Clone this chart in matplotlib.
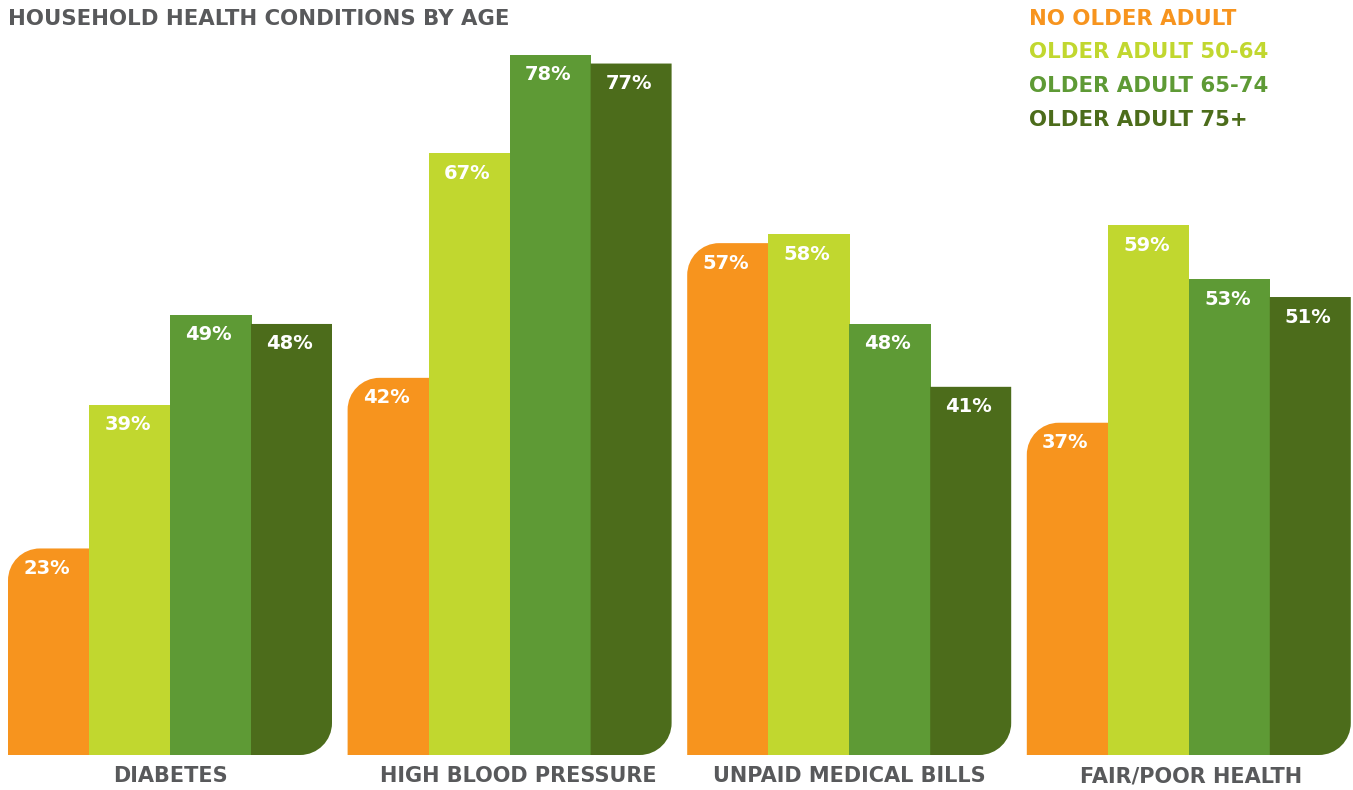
import matplotlib
matplotlib.use("Agg")
import matplotlib.pyplot as plt
from matplotlib.path import Path
from matplotlib.patches import PathPatch

categories = ["DIABETES", "HIGH BLOOD PRESSURE", "UNPAID MEDICAL BILLS", "FAIR/POOR HEALTH"]
series = ["NO OLDER ADULT", "OLDER ADULT 50-64", "OLDER ADULT 65-74", "OLDER ADULT 75+"]
no_older = [23, 42, 57, 37]
older_50_64 = [39, 67, 58, 59]
older_65_74 = [49, 78, 48, 53]
older_75 = [48, 77, 41, 51]
values = [no_older, older_50_64, older_65_74, older_75]
colors = ["#F7941E", "#C1D72F", "#5E9A35", "#4C6C1B"]
title = "HOUSEHOLD HEALTH CONDITIONS BY AGE"

W, H = 1353, 790
PX = 8.98          # pixels per percentage point
BASE = 755         # baseline pixel row
fig = plt.figure(figsize=(W / 100, H / 100), dpi=100)
ax = fig.add_axes([0, 0, 1, 1])
ax.set_xlim(0, W)
ax.set_ylim(-(H - BASE) / PX, BASE / PX)
ax.axis("off")

font = "DejaVu Sans"
gray = "#58595B"
bar_w = 81
group_start = 8
group_step = 339.6
label_dx = [0, 9, 0, 2]
r_px = 32
rx, ry = r_px, r_px / PX
k = 0.5523


def bar_path(x0, x1, y0, y1, round_tl, round_br):
    verts, codes = [(x0, y0)], [Path.MOVETO]
    if round_br:
        verts += [(x1 - rx, y0), (x1 - rx + k * rx, y0), (x1, y0 + ry - k * ry), (x1, y0 + ry)]
        codes += [Path.LINETO, Path.CURVE4, Path.CURVE4, Path.CURVE4]
    else:
        verts.append((x1, y0)); codes.append(Path.LINETO)
    verts.append((x1, y1)); codes.append(Path.LINETO)
    if round_tl:
        verts += [(x0 + rx, y1), (x0 + rx - k * rx, y1), (x0, y1 - ry + k * ry), (x0, y1 - ry)]
        codes += [Path.LINETO, Path.CURVE4, Path.CURVE4, Path.CURVE4]
    else:
        verts.append((x0, y1)); codes.append(Path.LINETO)
    verts.append((x0, y0)); codes.append(Path.CLOSEPOLY)
    return Path(verts, codes)


for g, cat in enumerate(categories):
    gx = group_start + g * group_step
    for s in range(len(series)):
        v = values[s][g]
        x0 = gx + s * bar_w
        x1 = x0 + bar_w
        p = bar_path(x0, x1 + (0.6 if s < 3 else 0), 0, v, s == 0, s == 3)
        ax.add_patch(PathPatch(p, facecolor=colors[s], edgecolor="none", lw=0))
        ax.text(x0 + bar_w / 2 - 2, v - 20 / PX, f"{v}%", color="white",
                fontsize=14, fontweight="bold", family=font, ha="center", va="center")
    ax.text(gx + 2 * bar_w + label_dx[g], -(776 - BASE) / PX, cat, color=gray, fontsize=15,
            fontweight="bold", family=font, ha="center", va="center")

fig.text(8 / W, 1 - 19 / H, title, color=gray, fontsize=15.3, fontweight="bold",
         family=font, ha="left", va="center")
for i, name in enumerate(series):
    fig.text(1029 / W, 1 - (19 + i * 33.5) / H, name, color=colors[i], fontsize=15.3,
             fontweight="bold", family=font, ha="left", va="center")

fig.savefig("out.png", dpi=100, facecolor="white")
